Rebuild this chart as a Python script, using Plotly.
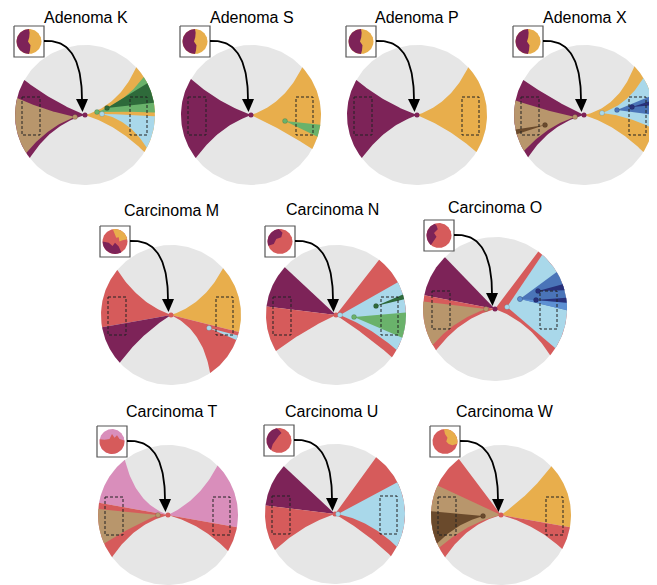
import numpy as np
import plotly.graph_objects as go

# ---------------- data ----------------
titles = ["Adenoma K", "Adenoma S", "Adenoma P", "Adenoma X",
          "Carcinoma M", "Carcinoma N", "Carcinoma O",
          "Carcinoma T", "Carcinoma U", "Carcinoma W"]

# clone wedges: (clone colour, origin dx, origin dy, tangent_a, end_a, tangent_b, end_b)  angles in degrees
adenoma_K = [("purple", 0, 0, 158, 150, 195, 218),
             ("tan", -10, -2, 168, 166, 200, 213),
             ("orange", 0, 0, -18, -32, 15, 43),
             ("green", 12, 3, 2, 2, 18, 33),
             ("darkgreen", 22, 7, None, 10, None, 27),
             ("lightblue", 17, 1, -12, -28, -1, -1)]
adenoma_S = [("purple", 0, 0, 160, 149, 200, 218),
             ("orange", 0, 0, -25, -29, 18, 43),
             ("green", 34, -6, None, -18, None, -8)]
adenoma_P = [("purple", 0, 0, 160, 150, 200, 218),
             ("orange", 0, 0, -22, -32, 18, 43)]
adenoma_X = [("purple", 0, 0, 155, 150, 195, 217),
             ("tan", -9, -2, 168, 168, 198, 211),
             ("darkbrown", -39, -10, None, 192, None, 196),
             ("orange", 0, 0, -18, -32, 12, 44),
             ("lightblue", 18, 2, -6, -11, 18, 32),
             ("blue", 33, 5, None, 0, None, 16),
             ("navy", 48, 8, None, 8, None, 12)]
carcinoma_M = [("red", 0, 0, 160, 140, None, 190),
               ("purple", 0, 0, None, 190, 212, 223),
               ("orange", 0, 0, None, -14, 18, 42),
               ("red", 0, 0, -25, -56, None, -14),
               ("lightblue", 38, -13, None, -21, None, -17)]
carcinoma_N = [("purple", 0, 0, None, 137, None, 173),
               ("red", 0, 0, None, 173, 205, 211),
               ("red", 0, 0, -33, -37, None, 52),
               ("lightblue", 4, 0, -22, -30, None, 28),
               ("green", 18, -2, None, -19, None, 2),
               ("darkgreen", 40, 9, None, 13, None, 17)]
carcinoma_O = [("purple", 0, 0, None, 134, None, 169),
               ("red", 0, 0, None, 169, 195, 215),
               ("tan", -9, 0, None, 174, 198, 210),
               ("red", 0, 0, -20, -40, None, 53),
               ("lightblue", 12, 2, None, -33, None, 49),
               ("blue", 25, 10, None, -1, None, 31),
               ("midblue", 25, 10, None, -1, None, 5),
               ("navy", 43, 18, None, 15, None, 20),
               ("navy", 41, 9, None, 5, None, 9)]
carcinoma_T = [("pink", 0, 0, 160, 128, None, 170),
               ("red", 0, 0, None, 170, 195, 217),
               ("tan", -10, 0, None, 175, 203, 204),
               ("pink", 0, 0, None, -10, 25, 45),
               ("red", 0, 0, -15, -31, None, -10)]
carcinoma_U = [("purple", 0, 0, None, 137, None, 173),
               ("red", 0, 0, None, 173, 198, 211),
               ("red", 0, 0, -30, -37, None, 54),
               ("lightblue", 3, 0, -12, -28, None, 27)]
carcinoma_W = [("red", 0, 0, None, 127, 195, 217),
               ("tan", 0, 0, None, 155, 193, 208),
               ("darkbrown", -18, -1, None, 177, 195, 204),
               ("orange", 0, 0, None, -10, 35, 44),
               ("red", 0, 0, -15, -29, None, -10)]
clones = [adenoma_K, adenoma_S, adenoma_P, adenoma_X,
          carcinoma_M, carcinoma_N, carcinoma_O,
          carcinoma_T, carcinoma_U, carcinoma_W]
root_clone = ["purple"] * 4 + ["red", "red", "purple", "red", "red", "red"]

# ---------------- styles / layout ----------------
COL = {"purple": "#7d2358", "orange": "#e8ae4c", "tan": "#b8966c", "green": "#6ab26b",
       "darkgreen": "#2e6a3a", "lightblue": "#a9d8ea", "blue": "#4a74b8", "midblue": "#5d90d3",
       "navy": "#28307a", "red": "#d65b5b", "pink": "#d98ebb", "darkbrown": "#6a4a2c"}
GREY = "#e6e6e6"
CENTERS = [(85, 115), (251, 115), (417, 115), (584, 115),
           (171, 315), (336, 315), (495, 309),
           (168, 515), (335, 514), (501, 515)]
RADII = [70, 70, 70, 70, 70, 70, 72, 70, 70, 70]
TITLE_POS = [(86, 17), (252, 17), (417, 17), (585, 17),
             (171, 210), (332, 209), (495, 207),
             (172, 411), (331, 411), (505, 411)]
ADEN_BLOB = ("orange", [("purple", 90, 270, [(0.08, -0.7), (0.12, -0.3), (-0.08, 0.0), (0.02, 0.35), (0.05, 0.7)])])
INSETS = [ADEN_BLOB, ADEN_BLOB, ADEN_BLOB, ADEN_BLOB,
          ("red", [("orange", 10, 100, [(-0.05, 0.6), (0.1, 0.3), (0.3, 0.35), (0.35, 0.0), (0.6, 0.1)]),
                   ("purple", 180, 300, [(0.3, -0.4), (0.0, -0.1), (-0.2, -0.35), (-0.5, -0.1)])]),
          ("red", [("purple", 95, 200, [(-0.5, -0.2), (-0.3, 0.2), (0.1, 0.35), (0.2, 0.7)])]),
          ("red", [("purple", 110, 230, [(-0.4, -0.4), (-0.2, -0.1), (-0.4, 0.2), (-0.1, 0.5), (-0.2, 0.8)])]),
          ("pink", [("red", 170, 365, [(0.6, 0.2), (0.4, 0.5), (0.2, 0.3), (0.0, 0.6), (-0.2, 0.2), (-0.6, 0.15)])]),
          ("red", [("purple", 100, 230, [(-0.5, -0.3), (-0.25, 0.1), (0.0, 0.4), (0.2, 0.6), (0.0, 0.85)])]),
          ("red", [("orange", -10, 95, [(0.0, 0.6), (0.2, 0.3), (0.1, 0.0), (0.3, -0.2), (0.6, -0.3)])])]
PAGE_OFFSET = 8  # default body margin of the html page


def bez2(p0, p1, p2, n=40):
    t = np.linspace(0, 1, n)[:, None]
    return (1 - t) ** 2 * p0 + 2 * (1 - t) * t * p1 + t ** 2 * p2


def bez3(p0, p1, p2, p3, n=50):
    t = np.linspace(0, 1, n)[:, None]
    return (1 - t) ** 3 * p0 + 3 * (1 - t) ** 2 * t * p1 + 3 * (1 - t) * t ** 2 * p2 + t ** 3 * p3


def boundary(O, tan, end, R):
    e = np.radians(end)
    E = R * np.array([np.cos(e), np.sin(e)])
    if tan is None:
        return np.vstack([O, E])
    L = 0.5 * np.linalg.norm(E - O)
    t = np.radians(tan)
    C = O + L * np.array([np.cos(t), np.sin(t)])
    return bez2(O, C, E)


def wedge(O, ta, ea, tb, eb, R):
    pa = boundary(O, ta, ea, R)
    pb = boundary(O, tb, eb, R)[::-1]
    e2 = eb if eb > ea else eb + 360
    ang = np.radians(np.linspace(ea, e2, 60))
    arc = R * np.column_stack([np.cos(ang), np.sin(ang)])
    return np.vstack([pa, arc, pb])


fig = go.Figure()


def poly(pts, cx, cy, color, lw=0, lc=None):
    fig.add_trace(go.Scatter(x=cx + pts[:, 0], y=cy - pts[:, 1], mode="lines", fill="toself",
                             fillcolor=color, line=dict(width=lw, color=lc or color),
                             hoverinfo="skip", showlegend=False))


annotations = []
for i, name in enumerate(titles):
    cx, cy = CENTERS[i]
    R = RADII[i]
    th = np.radians(np.linspace(0, 360, 200))
    circ = np.column_stack([np.cos(th), np.sin(th)])
    poly(R * circ, cx, cy, GREY)
    dots = []
    for (c, ox, oy, ta, ea, tb, eb) in clones[i]:
        O = np.array([ox, oy], float)
        poly(wedge(O, ta, ea, tb, eb, R), cx, cy, COL[c])
        if ox or oy:
            dots.append((cx + ox, cy - oy, COL[c]))
    fig.add_trace(go.Scatter(x=[cx], y=[cy], mode="markers",
                             marker=dict(size=5, color=COL[root_clone[i]]),
                             hoverinfo="skip", showlegend=False))
    for (dx, dy, dc) in dots:
        fig.add_trace(go.Scatter(x=[dx], y=[dy], mode="markers",
                                 marker=dict(size=5, color=dc, line=dict(width=0.5, color="rgba(0,0,0,0.25)")),
                                 hoverinfo="skip", showlegend=False))
    for (x0, x1) in [(-63, -45), (45, 62)]:
        fig.add_trace(go.Scatter(x=[cx + x0, cx + x1, cx + x1, cx + x0, cx + x0],
                                 y=[cy - 18, cy - 18, cy + 20, cy + 20, cy - 18], mode="lines",
                                 line=dict(color="#222222", width=1, dash="3px,2px"),
                                 hoverinfo="skip", showlegend=False))
    bx0, bx1, by0, by1 = cx - 71, cx - 41, cy - 89, cy - 58
    fig.add_trace(go.Scatter(x=[bx0, bx1, bx1, bx0, bx0], y=[by0, by0, by1, by1, by0], mode="lines",
                             line=dict(color="#555555", width=1.2), fill="toself", fillcolor="white",
                             hoverinfo="skip", showlegend=False))
    icx, icy, ir = cx - 56, cy - 73.5, 12.5
    base, blobs = INSETS[i]
    poly(ir * circ, icx, icy, COL[base])
    for (bc, a1, a2, inner) in blobs:
        ang = np.radians(np.linspace(a1, a2, 40))
        pts = np.vstack([np.column_stack([np.cos(ang), np.sin(ang)]), np.array(inner)])
        poly(ir * pts, icx, icy, COL[bc])
    P = bez3(np.array([-41, -74.0]), np.array([-15, -76.0]), np.array([-3, -55.0]), np.array([-3, -15.0]))
    fig.add_trace(go.Scatter(x=cx + P[:, 0], y=cy + P[:, 1], mode="lines",
                             line=dict(color="black", width=1.8), hoverinfo="skip", showlegend=False))
    fig.add_trace(go.Scatter(x=[cx - 9, cx + 3, cx - 2.5, cx - 9], y=[cy - 16, cy - 16, cy - 3, cy - 16],
                             mode="lines", fill="toself", fillcolor="black", line=dict(width=0, color="black"),
                             hoverinfo="skip", showlegend=False))
    tx, ty = TITLE_POS[i]
    annotations.append(dict(x=tx, y=ty, text=name, showarrow=False, xref="x", yref="y",
                            font=dict(size=16, color="black", family="Liberation Sans, Arial, sans-serif")))

o = PAGE_OFFSET
fig.update_layout(width=657, height=585, margin=dict(l=0, r=0, t=0, b=0),
                  paper_bgcolor="white", plot_bgcolor="white", showlegend=False,
                  annotations=annotations,
                  xaxis=dict(range=[o, 657 + o], visible=False, fixedrange=True),
                  yaxis=dict(range=[585 + o, o], visible=False, fixedrange=True))
fig.write_html("out.html")
